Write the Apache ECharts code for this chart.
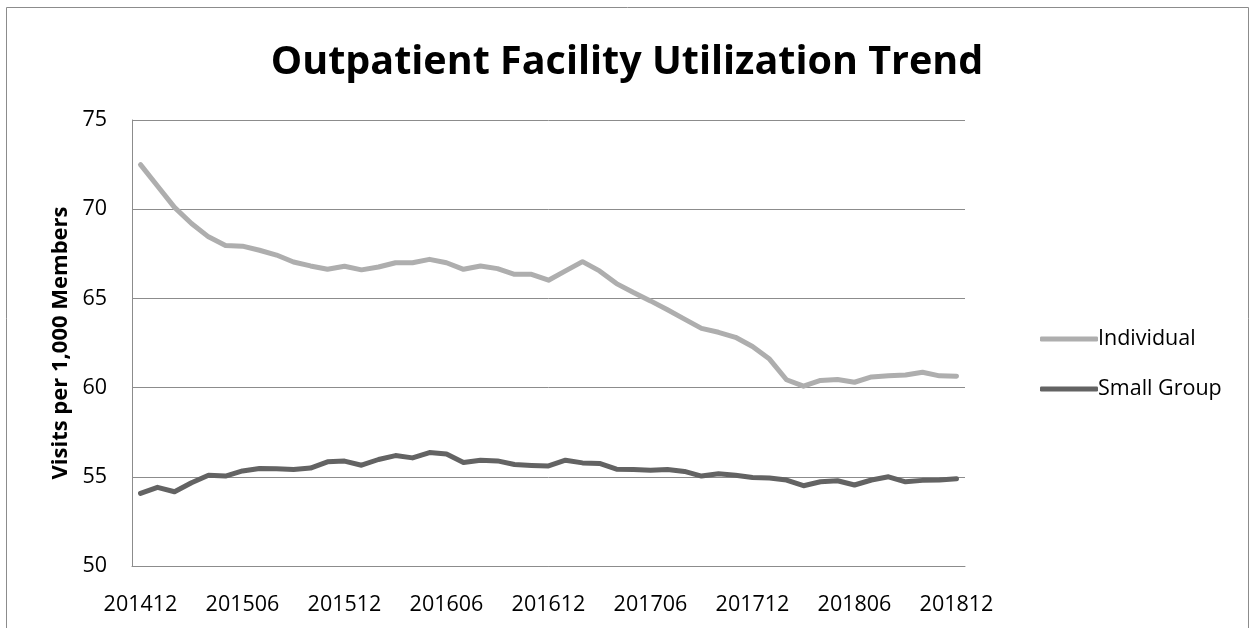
<!DOCTYPE html>
<html>
<head>
<meta charset="utf-8">
<script src="https://cdn.jsdelivr.net/npm/echarts@6/dist/echarts.min.js"></script>
<style>
  html, body { margin: 0; padding: 0; background: #fff; }
  #chart { width: 1254px; height: 628px; }
</style>
</head>
<body>
<div id="chart"></div>
<script>
// months 201412 .. 201812
var months = [];
for (var y = 2014; y <= 2018; y++) {
  for (var m = 1; m <= 12; m++) {
    if (y === 2014 && m < 12) continue;
    months.push(String(y) + (m < 10 ? '0' + m : m));
  }
}

var individual = [
  72.5, 71.3, 70.1, 69.2, 68.45, 67.97, 67.93, 67.7, 67.43, 67.04,
  66.82, 66.63, 66.8, 66.6, 66.76, 67.0, 67.0, 67.19, 67.0, 66.63,
  66.82, 66.67, 66.35, 66.35, 66.02, 66.54, 67.06, 66.54, 65.83, 65.33,
  64.86, 64.36, 63.84, 63.32, 63.1, 62.82, 62.3, 61.6, 60.44, 60.08,
  60.4, 60.45, 60.3, 60.6, 60.66, 60.71, 60.86, 60.66, 60.64
];

var smallGroup = [
  54.07, 54.41, 54.16, 54.67, 55.09, 55.04, 55.33, 55.47, 55.45, 55.41,
  55.49, 55.84, 55.88, 55.65, 55.97, 56.19, 56.06, 56.36, 56.28, 55.8,
  55.93, 55.89, 55.69, 55.64, 55.61, 55.93, 55.78, 55.75, 55.43, 55.41,
  55.37, 55.41, 55.3, 55.04, 55.17, 55.09, 54.96, 54.93, 54.82, 54.5,
  54.72, 54.78, 54.54, 54.82, 55.0, 54.72, 54.8, 54.82, 54.89
];

var font = '"Open Sans", "Noto Sans", sans-serif';

var chart = echarts.init(document.getElementById('chart'), null, { renderer: 'canvas' });

var option = {
  backgroundColor: '#fff',
  animation: false,
  title: {
    text: 'Outpatient Facility Utilization Trend',
    left: 'center',
    top: 38,
    textStyle: { fontFamily: font, fontSize: 39.5, fontWeight: 'bold', color: '#000' }
  },
  graphic: [{
    type: 'rect',
    shape: { x: 6.5, y: 7.5, width: 1242, height: 660 },
    style: { fill: 'none', stroke: '#8c8c8c', lineWidth: 1 },
    silent: true
  }],
  legend: {
    orient: 'vertical',
    left: 1035,
    top: 323,
    itemWidth: 58,
    itemHeight: 5,
    itemGap: 28,
    icon: 'roundRect',
    textStyle: { fontFamily: font, fontSize: 21.5, color: '#000', padding: [0, 0, 0, -5] },
    data: ['Individual', 'Small Group']
  },
  grid: { left: 132, right: 289, top: 120, bottom: 62, containLabel: false },
  xAxis: {
    type: 'category',
    data: months,
    boundaryGap: true,
    axisLine: { show: true, lineStyle: { color: '#8c8c8c', width: 1 } },
    axisTick: { show: false },
    axisLabel: {
      interval: 5,
      margin: 28,
      fontFamily: font, fontSize: 21.5, color: '#000'
    },
    splitLine: { show: false }
  },
  yAxis: {
    type: 'value',
    min: 50, max: 75, interval: 5,
    name: 'Visits per 1,000 Members',
    nameLocation: 'middle',
    nameGap: 58,
    nameTextStyle: { fontFamily: font, fontSize: 22, fontWeight: 'bold', color: '#000' },
    axisLine: { show: true, lineStyle: { color: '#8c8c8c', width: 1 } },
    axisTick: { show: false },
    axisLabel: { margin: 25, fontFamily: font, fontSize: 21.5, color: '#000' },
    splitLine: { show: true, lineStyle: { color: '#8c8c8c', width: 1 } }
  },
  series: [{
    name: 'Individual',
    type: 'line',
    data: individual,
    symbol: 'none',
    color: '#aeaeae',
    lineStyle: { width: 5, color: '#aeaeae', cap: 'round', join: 'round' }
  }, {
    name: 'Small Group',
    type: 'line',
    data: smallGroup,
    symbol: 'none',
    color: '#636363',
    lineStyle: { width: 5, color: '#636363', cap: 'round', join: 'round' }
  }]
};

chart.setOption(option);
</script>
</body>
</html>
